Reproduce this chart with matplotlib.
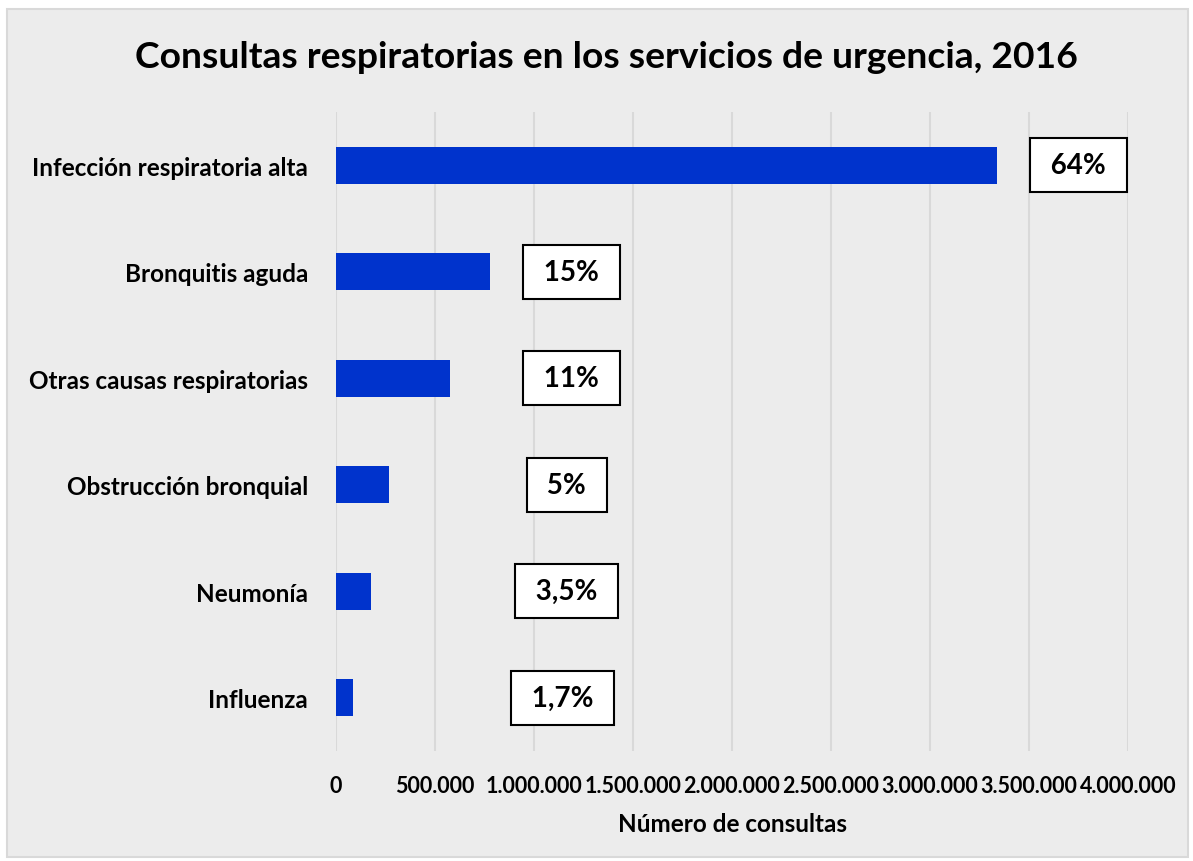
import numpy as np
import matplotlib.pyplot as plt
from matplotlib.patches import Rectangle

categorias = ["Infección respiratoria alta", "Bronquitis aguda", "Otras causas respiratorias",
              "Obstrucción bronquial", "Neumonía", "Influenza"]
consultas = [3340000, 780000, 578000, 270000, 178000, 86000]
etiquetas = ["64%", "15%", "11%", "5%", "3,5%", "1,7%"]
pos_etiqueta = [3750000, 1190000, 1190000, 1165000, 1165000, 1145000]
ticks = [0, 500000, 1000000, 1500000, 2000000, 2500000, 3000000, 3500000, 4000000]
tick_labels = ["0", "500.000", "1.000.000", "1.500.000", "2.000.000", "2.500.000",
               "3.000.000", "3.500.000", "4.000.000"]

plt.rcParams['font.family'] = ['Lato', 'DejaVu Sans']
plt.rcParams['font.weight'] = 'bold'

fig = plt.figure(figsize=(11.93, 8.62), dpi=100)
fig.patch.set_facecolor("white")
fig.patches.append(Rectangle((7/1193, 1 - 858/862), 1181/1193, 848/862, transform=fig.transFigure,
                             facecolor="#ececec", edgecolor="#d9d9d9", linewidth=1.5, zorder=-10))

ax = fig.add_axes([336/1193, 1 - 752/862, (1128 - 336)/1193, (752 - 113)/862])
ax.set_facecolor("none")

y = np.arange(len(categorias))
ax.barh(y, consultas, height=0.35, color="#0033cc", zorder=3)
ax.set_ylim(len(categorias) - 0.5, -0.5)
ax.set_xlim(0, 4000000)

for yi, txt, xp in zip(y, etiquetas, pos_etiqueta):
    ax.text(xp, yi, " " + txt + " ", ha="center", va="center", fontsize=20, fontweight="bold", zorder=4,
            bbox=dict(boxstyle="square,pad=0.5", facecolor="white", edgecolor="black", linewidth=1.5))

ax.set_yticks(y)
ax.set_yticklabels(categorias, fontsize=17.5, fontweight="bold")
ax.set_xticks(ticks)
ax.set_xticklabels(tick_labels, fontsize=15.5, fontweight="bold")
ax.tick_params(axis="both", length=0)
ax.tick_params(axis="x", pad=17)
ax.tick_params(axis="y", pad=20)
ax.grid(axis="x", color="#d9d9d9", linewidth=1.5, zorder=0)
for s in ax.spines.values():
    s.set_visible(False)

ax.set_xlabel("Número de consultas", fontsize=17.5, fontweight="bold", labelpad=12)
fig.text(606/1193, 1 - 57/862, "Consultas respiratorias en los servicios de urgencia, 2016",
         ha="center", va="center", fontsize=26.8, fontweight="bold")

fig.savefig("out.png", dpi=100)
